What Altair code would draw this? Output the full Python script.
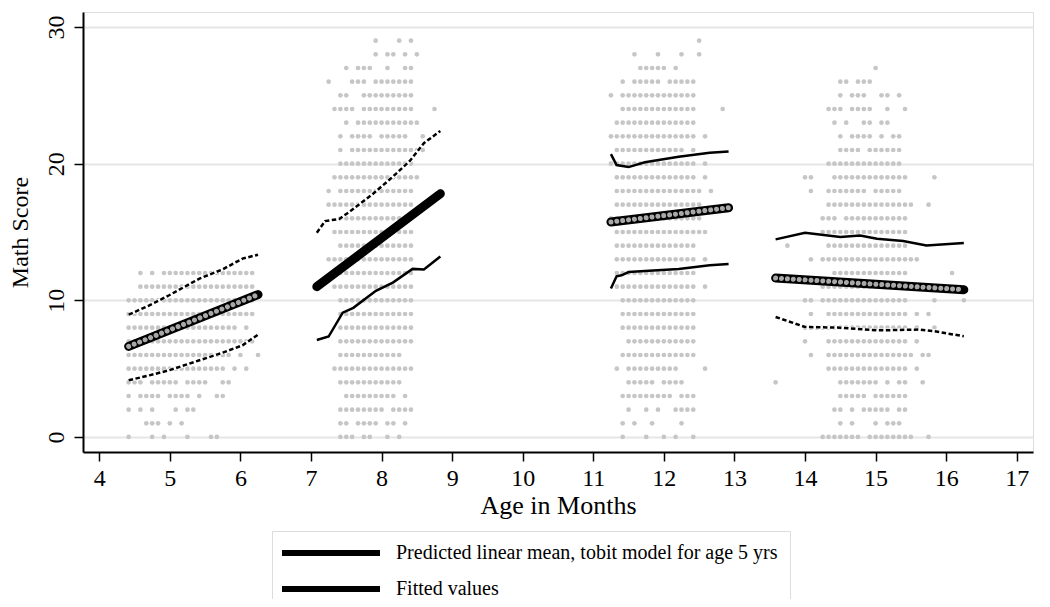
import altair as alt
import pandas as pd

STEP = 1 / 12  # dot columns are one month apart

# ---- scatter grid: start age of each cluster and, per score row, the occupied columns
c1_start = 4 + 5 / 12
c1_rows = {
    12: "2,4,6-21", 11: "2-21", 10: "0-21", 9: "0-21", 8: "0-18,20", 7: "0-21",
    6: "0-17,19,22", 5: "0-16,18,20", 4: "0-2,4-8,10-13,16,17",
    3: "0,2-5,7-10,12,15,16", 2: "0,2,4,8,10,11", 1: "3-5,7,9", 0: "0,4,6,10,14,15",
}
c2_start = 7 + 3 / 12
c2_rows = {
    29: "8,12,14", 28: "8,10,11,13,15", 27: "3,5-7,10,13,14", 26: "0,4-6,8-14",
    25: "2,3,6-14", 24: "1-4,6-14,18", 23: "3,5-15", 22: "2,4-7,9-13,16",
    21: "2,4-16", 20: "2-14", 19: "1-15", 18: "0,2-14,19", 17: "0-14", 16: "2-14",
    15: "1-14", 14: "2-14", 13: "0-14", 12: "1-14", 11: "1-14", 10: "2-14",
    9: "2-14", 8: "2-14", 7: "2-14", 6: "2-12", 5: "1-14", 4: "2-12",
    3: "3-11,13", 2: "2-9,11-14", 1: "2,3,5-8,10,11,13", 0: "2-4,6,7,10,12",
}
c3_start = 11 + 3 / 12
c3_rows = {
    29: "15", 28: "4,8,12,15", 27: "5-9,11", 26: "2,4-8,10-14", 25: "0,2-14",
    24: "2-14,19", 23: "1-14", 22: "0-14,16", 21: "1-12,14", 20: "0-14,16",
    19: "1-14,16", 18: "1-15,17", 17: "1-15", 16: "0-15", 15: "1-16", 14: "1-14",
    13: "1-14,16", 12: "1-14", 11: "1-14,16", 10: "2-14", 9: "2-14", 8: "2-14",
    7: "3-14", 6: "2-14", 5: "1,3-11,16", 4: "3-7,9-12", 3: "2-10,12-14",
    2: "3,6,8,11-14", 1: "2,4,7,12", 0: "2,6,9,11,14",
}
c4_start = 13 + 7 / 12
c4_rows = {
    27: "17", 26: "11,12,14-16", 25: "11,13-15,18,19,21", 24: "9-11,13-16,19,22",
    23: "10,12,15,16,18,19", 22: "11,13-16,18,20,21", 21: "11-14,16-21", 20: "9-21",
    19: "5,6,10-22,27", 18: "6,9-15,17-21", 17: "9-23,26", 16: "8-10,12-22",
    15: "8-22", 14: "2,9-22", 13: "6,8-24", 12: "10-22,30", 11: "8-22,27",
    10: "5,6,8-22,27,32", 9: "6,9-22,24,26", 8: "5-22,24,27", 7: "5,9-22,24",
    6: "6,9-23,25,26", 5: "9-22,24", 4: "0,11-17,19,21,22,25", 3: "11-15,17-22",
    2: "10,11,13,15-19,21,22", 1: "11,13,17,19-21", 0: "8-14,16-23,26",
}

# ---- fitted lines
pred_label = "Predicted linear mean, tobit model for age 5 yrs"
fit_label = "Fitted values"

c1_pred_x = [4.417, 6.25]
c1_pred_y = [6.63, 10.42]
c1_up_x = [4.417, 4.71, 4.99, 5.42, 5.75, 6.03, 6.25]
c1_up_y = [8.95, 9.63, 10.37, 11.59, 12.27, 13.05, 13.34]
c1_lo_x = [4.417, 4.71, 4.99, 5.42, 5.75, 6.03, 6.25]
c1_lo_y = [4.15, 4.51, 4.88, 5.61, 6.17, 6.71, 7.49]

c2_fit_x = [7.083, 8.833]
c2_fit_y = [11.0, 17.8]
c2_up_x = [7.083, 7.2, 7.4, 7.55, 7.88, 8.15, 8.4, 8.6, 8.833]
c2_up_y = [14.95, 15.8, 15.95, 16.5, 17.8, 19.0, 20.2, 21.5, 22.4]
c2_lo_x = [7.083, 7.25, 7.45, 7.6, 7.92, 8.16, 8.44, 8.6, 8.833]
c2_lo_y = [7.1, 7.35, 9.1, 9.45, 10.7, 11.3, 12.3, 12.25, 13.2]

c3_pred_x = [11.25, 12.917]
c3_pred_y = [15.73, 16.78]
c3_up_x = [11.25, 11.33, 11.5, 11.73, 12.21, 12.65, 12.917]
c3_up_y = [20.7, 19.9, 19.75, 20.1, 20.5, 20.8, 20.9]
c3_lo_x = [11.25, 11.33, 11.4, 11.5, 11.73, 12.21, 12.65, 12.917]
c3_lo_y = [10.86, 11.76, 11.83, 12.07, 12.15, 12.3, 12.56, 12.65]

c4_pred_x = [13.583, 16.25]
c4_pred_y = [11.63, 10.78]
c4_up_x = [13.583, 14.0, 14.5, 14.78, 15.02, 15.39, 15.72, 16.25]
c4_up_y = [14.46, 14.95, 14.63, 14.75, 14.5, 14.34, 14.02, 14.19]
c4_lo_x = [13.583, 14.0, 14.5, 15.02, 15.63, 15.82, 16.25]
c4_lo_y = [8.78, 8.05, 8.0, 7.8, 7.86, 7.75, 7.37]

x_ticks = list(range(4, 18))
y_ticks = [0, 10, 20, 30]


def parse(spec):
    out = []
    for part in spec.split(","):
        if "-" in part:
            a, b = part.split("-")
            out.extend(range(int(a), int(b) + 1))
        else:
            out.append(int(part))
    return out


dot_recs = []
for start, rows in [(c1_start, c1_rows), (c2_start, c2_rows), (c3_start, c3_rows), (c4_start, c4_rows)]:
    for score, spec in rows.items():
        for k in parse(spec):
            dot_recs.append({"x": start + k * STEP, "y": score})
dots_df = pd.DataFrame(dot_recs)


def line_df(xs, ys, lid, series=None):
    return pd.DataFrame({"x": xs, "y": ys, "lid": lid, "series": series})


mid_df = pd.concat([
    line_df(c1_pred_x, c1_pred_y, "c1", pred_label),
    line_df(c2_fit_x, c2_fit_y, "c2", fit_label),
    line_df(c3_pred_x, c3_pred_y, "c3", pred_label),
    line_df(c4_pred_x, c4_pred_y, "c4", pred_label),
])
pred_df = mid_df[mid_df["series"] == pred_label]

dash_df = pd.concat([
    line_df(c1_up_x, c1_up_y, "c1u"), line_df(c1_lo_x, c1_lo_y, "c1l"),
    line_df(c2_up_x, c2_up_y, "c2u"), line_df(c4_lo_x, c4_lo_y, "c4l"),
])
solid_df = pd.concat([
    line_df(c2_lo_x, c2_lo_y, "c2l"),
    line_df(c3_up_x, c3_up_y, "c3u"), line_df(c3_lo_x, c3_lo_y, "c3l"),
    line_df(c4_up_x, c4_up_y, "c4u"),
])

FONT = "Liberation Serif"
xs = alt.Scale(domain=[3.77, 17.23], nice=False, zero=False)
ys = alt.Scale(domain=[-1.1, 31.1], nice=False, zero=False)

X = alt.X("x:Q", scale=xs, title="Age in Months",
          axis=alt.Axis(values=x_ticks, grid=False, tickSize=9, labelFontSize=24,
                        labelPadding=5, titleFontSize=26, titlePadding=2,
                        domainColor="black", domainWidth=2, tickColor="black", tickWidth=1.5,
                        labelColor="black", titleColor="black", labelFont=FONT, titleFont=FONT,
                        titleFontWeight="normal"))
Y = alt.Y("y:Q", scale=ys, title="Math Score",
          axis=alt.Axis(values=y_ticks, grid=True, gridColor="#e6e6e6", gridWidth=2,
                        tickSize=9, labelFontSize=24, labelAngle=270, labelAlign="center",
                        labelBaseline="bottom", labelPadding=6, titleFontSize=24,
                        titlePadding=12, domainColor="black", domainWidth=2,
                        tickColor="black", tickWidth=1.5, labelColor="black",
                        titleColor="black", labelFont=FONT, titleFont=FONT,
                        titleFontWeight="normal"))

dots = alt.Chart(dots_df).mark_circle(size=22, color="#c6c6c6", opacity=1).encode(x=X, y=Y)

dash_under = alt.Chart(dash_df).mark_line(color="white", strokeWidth=3.5).encode(
    x=X, y=Y, detail="lid:N")
dash_lines = alt.Chart(dash_df).mark_line(color="black", strokeWidth=2.5, strokeDash=[4.5, 2.5]).encode(
    x=X, y=Y, detail="lid:N")
solid_lines = alt.Chart(solid_df).mark_line(color="black", strokeWidth=2.5).encode(
    x=X, y=Y, detail="lid:N")

mid_lines = alt.Chart(mid_df).mark_line(strokeWidth=9, strokeCap="round").encode(
    x=X, y=Y, detail="lid:N",
    color=alt.Color("series:N",
                    scale=alt.Scale(domain=[pred_label, fit_label], range=["black", "black"]),
                    legend=alt.Legend(title=None, orient="none", legendX=189, legendY=519,
                                      symbolType="M0,0H19.6", symbolSize=100,
                                      symbolStrokeWidth=6, symbolOffset=-12,
                                      labelOffset=104, labelFont=FONT, labelFontSize=20,
                                      labelColor="black", rowPadding=12, padding=12,
                                      strokeColor="#dcdcdc", fillColor="white",
                                      labelLimit=600)))
beads = alt.Chart(pred_df).mark_line(color="#a8a8a8", strokeWidth=5, strokeDash=[0.01, 5.9],
                                     strokeCap="round").encode(x=X, y=Y, detail="lid:N")

chart = alt.layer(dots, dash_under, dash_lines, solid_lines, mid_lines, beads).properties(
    width=950, height=440,
    autosize=alt.AutoSizeParams(type="none"),
    padding={"left": 75, "top": 4, "right": 9, "bottom": 147},
).configure_view(stroke=None).configure(background="white")

chart.save("out.html", embed_options={"renderer": "svg", "actions": False})
